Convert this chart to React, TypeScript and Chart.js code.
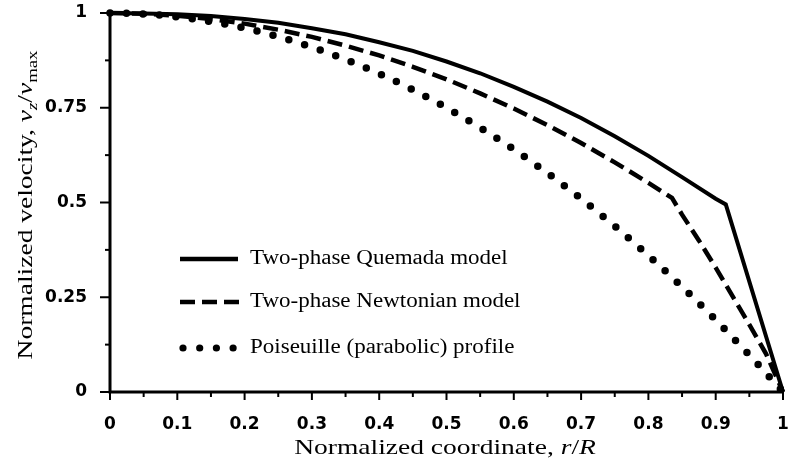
import React, { useEffect, useRef } from "react";
import { Chart, registerables } from "chart.js";

Chart.register(...registerables);

const quemadaR = [0, 0.05, 0.1, 0.15, 0.2, 0.25, 0.3, 0.35, 0.4, 0.45, 0.5, 0.55, 0.6, 0.65, 0.7, 0.75, 0.8, 0.85, 0.9, 0.915, 1];
const quemadaV = [1, 0.999, 0.997, 0.992, 0.984, 0.974, 0.96, 0.944, 0.923, 0.9, 0.872, 0.841, 0.805, 0.766, 0.723, 0.675, 0.623, 0.567, 0.51, 0.495, 0];

const newtonianR = [0, 0.05, 0.1, 0.15, 0.2, 0.25, 0.3, 0.35, 0.4, 0.45, 0.5, 0.55, 0.6, 0.65, 0.7, 0.75, 0.8, 0.835, 0.85, 0.875, 0.9, 0.925, 0.95, 0.975, 1];
const newtonianV = [1, 0.998, 0.993, 0.984, 0.972, 0.956, 0.937, 0.914, 0.888, 0.858, 0.825, 0.788, 0.748, 0.704, 0.657, 0.606, 0.552, 0.512, 0.468, 0.4, 0.328, 0.253, 0.178, 0.1, 0];

const poiseuilleR = [0, 0.05, 0.1, 0.15, 0.2, 0.25, 0.3, 0.35, 0.4, 0.45, 0.5, 0.55, 0.6, 0.65, 0.7, 0.75, 0.8, 0.85, 0.9, 0.95, 1];
const poiseuilleV = [1, 0.9975, 0.99, 0.9775, 0.96, 0.9375, 0.91, 0.8775, 0.84, 0.7975, 0.75, 0.6975, 0.64, 0.5775, 0.51, 0.4375, 0.36, 0.2775, 0.19, 0.0975, 0];

const seriesLabels = ["Two-phase Quemada model", "Two-phase Newtonian model", "Poiseuille (parabolic) profile"];
const xTickValues = [0, 0.1, 0.2, 0.3, 0.4, 0.5, 0.6, 0.7, 0.8, 0.9, 1];
const yTickValues = [0, 0.25, 0.5, 0.75, 1];

const SERIF = "'Liberation Serif', 'DejaVu Serif', serif";
const TICKFONT = "'DejaVu Sans', sans-serif";

type Seg = { t: string; italic?: boolean; small?: boolean; sub?: boolean };

function drawRich(ctx: CanvasRenderingContext2D, segs: Seg[], size: number, cx: number, cy: number, rot: number, sx: number) {
  ctx.save();
  ctx.translate(cx, cy);
  ctx.rotate(rot);
  ctx.scale(sx, 1);
  const fontFor = (s: Seg) => `${s.italic ? "italic " : ""}${s.small ? Math.round(size * 0.7) : size}px ${SERIF}`;
  let total = 0;
  for (const s of segs) {
    ctx.font = fontFor(s);
    total += ctx.measureText(s.t).width;
  }
  let x = -total / 2;
  ctx.fillStyle = "#000";
  ctx.textBaseline = "alphabetic";
  ctx.textAlign = "left";
  for (const s of segs) {
    ctx.font = fontFor(s);
    ctx.fillText(s.t, x, (s.sub ? size * 0.22 : 0) + size * 0.33);
    x += ctx.measureText(s.t).width;
  }
  ctx.restore();
}

const decorPlugin = {
  id: "decor",
  afterDraw(chart: any) {
    const ctx: CanvasRenderingContext2D = chart.ctx;
    const xs = chart.scales.x;
    const ys = chart.scales.y;
    const a = chart.chartArea;
    ctx.save();
    ctx.strokeStyle = "#000";
    ctx.lineCap = "butt";
    ctx.lineWidth = 3;
    ctx.beginPath();
    ctx.moveTo(a.left, a.top - 1);
    ctx.lineTo(a.left, a.bottom);
    ctx.lineTo(a.right + 1, a.bottom);
    ctx.stroke();
    ctx.lineWidth = 2;
    for (let i = 0; i < xTickValues.length; i++) {
      const px = xs.getPixelForValue(xTickValues[i]);
      ctx.beginPath();
      ctx.moveTo(px, a.bottom);
      ctx.lineTo(px, a.bottom + 8);
      ctx.stroke();
      if (i < xTickValues.length - 1) {
        const mp = xs.getPixelForValue((xTickValues[i] + xTickValues[i + 1]) / 2);
        ctx.beginPath();
        ctx.moveTo(mp, a.bottom);
        ctx.lineTo(mp, a.bottom + 5);
        ctx.stroke();
      }
    }
    for (let i = 0; i < yTickValues.length; i++) {
      const py = ys.getPixelForValue(yTickValues[i]);
      ctx.beginPath();
      ctx.moveTo(a.left, py);
      ctx.lineTo(a.left - 10, py);
      ctx.stroke();
      if (i < yTickValues.length - 1) {
        const mp = ys.getPixelForValue((yTickValues[i] + yTickValues[i + 1]) / 2);
        ctx.beginPath();
        ctx.moveTo(a.left, mp);
        ctx.lineTo(a.left - 5, mp);
        ctx.stroke();
      }
    }
    // legend
    const ly = [259, 302, 348];
    const lx0 = 180;
    const lx1 = 238;
    ctx.lineWidth = 4.5;
    ctx.setLineDash([]);
    ctx.beginPath();
    ctx.moveTo(lx0, ly[0]);
    ctx.lineTo(lx1, ly[0]);
    ctx.stroke();
    ctx.setLineDash([15, 7]);
    ctx.beginPath();
    ctx.moveTo(lx0, ly[1]);
    ctx.lineTo(lx1 + 2, ly[1]);
    ctx.stroke();
    ctx.setLineDash([]);
    ctx.fillStyle = "#000";
    for (let k = 0; k < 4; k++) {
      ctx.beginPath();
      ctx.arc(lx0 + 3 + k * 16.7, ly[2], 3.6, 0, Math.PI * 2);
      ctx.fill();
    }
    ctx.font = `20px ${SERIF}`;
    ctx.textBaseline = "middle";
    ctx.textAlign = "left";
    for (let k = 0; k < 3; k++) {
      ctx.save();
      ctx.translate(250, ly[k]);
      ctx.scale(1.15, 1);
      ctx.fillText(seriesLabels[k], 0, 0);
      ctx.restore();
    }
    ctx.restore();
    drawRich(
      ctx,
      [{ t: "Normalized coordinate, " }, { t: "r", italic: true }, { t: "/" }, { t: "R", italic: true }],
      22,
      445,
      447,
      0,
      1.25
    );
    drawRich(
      ctx,
      [
        { t: "Normalized velocity, " },
        { t: "v", italic: true },
        { t: "z", italic: true, small: true, sub: true },
        { t: "/" },
        { t: "v", italic: true },
        { t: "max", small: true, sub: true },
      ],
      22,
      25,
      205,
      -Math.PI / 2,
      1.25
    );
  },
};

function fmt(v: number) {
  return String(Number(v.toFixed(2)));
}

export default function App() {
  const ref = useRef<HTMLCanvasElement | null>(null);
  useEffect(() => {
    if (!ref.current) return;
    const mk = (r: number[], v: number[]) => r.map((x, i) => ({ x, y: v[i] }));
    const chart = new Chart(ref.current, {
      type: "line",
      data: {
        datasets: [
          {
            label: seriesLabels[0],
            data: mk(quemadaR, quemadaV),
            borderColor: "#000",
            borderWidth: 4,
            pointRadius: 0,
            tension: 0,
            fill: false,
          },
          {
            label: seriesLabels[1],
            data: mk(newtonianR, newtonianV),
            borderColor: "#000",
            borderWidth: 4.5,
            borderDash: [15, 7],
            pointRadius: 0,
            tension: 0,
            fill: false,
          },
          {
            label: seriesLabels[2],
            data: mk(poiseuilleR, poiseuilleV),
            borderColor: "#000",
            borderWidth: 7.5,
            borderDash: [0, 16.5],
            borderCapStyle: "round",
            pointRadius: 0,
            cubicInterpolationMode: "monotone",
            fill: false,
          },
        ],
      },
      options: {
        animation: false,
        responsive: false,
        devicePixelRatio: 1,
        clip: false,
        layout: { padding: { top: 13, right: 5, left: 0, bottom: 0 }, autoPadding: false },
        plugins: { legend: { display: false }, tooltip: { enabled: false } },
        scales: {
          x: {
            type: "linear",
            min: 0,
            max: 1,
            afterFit: (s: any) => {
              s.height = 68;
              s.paddingLeft = 0;
              s.paddingRight = 0;
            },
            afterBuildTicks: (s: any) => {
              s.ticks = xTickValues.map((value) => ({ value }));
            },
            grid: { display: true, drawOnChartArea: false, drawTicks: true, tickLength: 22, color: "rgba(0,0,0,0)" },
            border: { display: false },
            ticks: {
              padding: 0,
              color: "#000",
              font: { family: TICKFONT, weight: "bold", size: 17 },
              callback: (v: any) => fmt(Number(v)),
              maxRotation: 0,
              autoSkip: false,
            },
          },
          y: {
            type: "linear",
            min: 0,
            max: 1,
            afterFit: (s: any) => {
              s.width = 110;
              s.paddingTop = 0;
              s.paddingBottom = 0;
            },
            afterBuildTicks: (s: any) => {
              s.ticks = yTickValues.map((value) => ({ value }));
            },
            grid: { display: true, drawOnChartArea: false, drawTicks: true, tickLength: 23, color: "rgba(0,0,0,0)" },
            border: { display: false },
            ticks: {
              padding: 0,
              color: "#000",
              font: { family: TICKFONT, weight: "bold", size: 17 },
              callback: (v: any) => fmt(Number(v)),
              autoSkip: false,
            },
          },
        },
      },
      plugins: [decorPlugin],
    } as any);
    return () => chart.destroy();
  }, []);
  return (
    <div style={{ position: "absolute", left: 0, top: 0, width: 788, height: 460, background: "#fff" }}>
      <canvas ref={ref} width={788} height={460} />
    </div>
  );
}
